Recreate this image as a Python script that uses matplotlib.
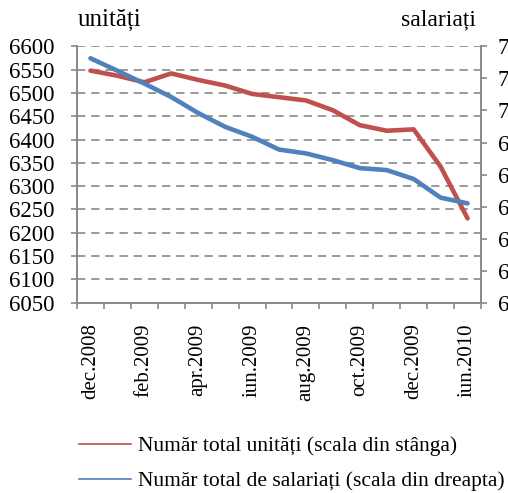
import matplotlib
matplotlib.use('Agg')
import numpy as np
import matplotlib.pyplot as plt
from matplotlib.lines import Line2D

plt.rcParams['font.family'] = ['Liberation Serif', 'DejaVu Serif']

luni = ['dec.2008', 'ian.2009', 'feb.2009', 'mar.2009', 'apr.2009', 'mai.2009',
        'iun.2009', 'iul.2009', 'aug.2009', 'sep.2009', 'oct.2009', 'nov.2009',
        'dec.2009', 'mar.2010', 'iun.2010']
unitati = [6548, 6537, 6523, 6542, 6528, 6516, 6498, 6491, 6484, 6463,
           6431, 6419, 6422, 6342, 6231]
salariati = [716.3, 712.4, 708.4, 704.2, 699.2, 694.9, 691.8, 687.8, 686.6,
             684.5, 682.0, 681.4, 678.6, 672.8, 671.0]
ticks_stanga = list(range(6050, 6601, 50))
ticks_dreapta = list(range(640, 721, 10))
nume_unitati = 'Număr total unități (scala din stânga)'
nume_salariati = 'Număr total de salariați (scala din dreapta)'

rosu = '#C0504D'
albastru = '#4F81BD'
gri = '#898989'

fig = plt.figure(figsize=(5.08, 4.93), dpi=100)
ax = fig.add_axes([77 / 508, 1 - 302.7 / 493, (481 - 77) / 508, (302.7 - 46.4) / 493])
ax2 = ax.twinx()

x = np.arange(len(luni))
ax.plot(x, unitati, color=rosu, lw=3.3, solid_capstyle='round', solid_joinstyle='round')
ax2.plot(x, salariati, color=albastru, lw=3.3, solid_capstyle='round', solid_joinstyle='round')

ax.set_xlim(-0.5, len(luni) - 0.5)
ax.set_ylim(ticks_stanga[0], ticks_stanga[-1])
ax2.set_ylim(ticks_dreapta[0], ticks_dreapta[-1])
ax.set_yticks(ticks_stanga)
ax2.set_yticks(ticks_dreapta)

ax.set_xticks(x[::2])
ax.set_xticklabels(luni[::2], rotation=90, fontsize=15)
ax.set_xticks(np.arange(-0.5, len(luni)), minor=True)
ax.tick_params(axis='x', which='major', length=0, pad=15)
ax.tick_params(axis='x', which='minor', length=4.5, color=gri, width=1.2)
ax.tick_params(axis='y', labelsize=16.5, length=4, color=gri, width=1.2, pad=12)
ax2.tick_params(axis='y', labelsize=16.5, length=4, color=gri, width=1.2, pad=8)

ax.yaxis.grid(True, color=gri, lw=1.2, linestyle=(0, (5, 3.5)))
ax.set_axisbelow(True)

for a in (ax, ax2):
    a.spines['top'].set_visible(False)
    for s in ('left', 'right', 'bottom'):
        a.spines[s].set_color(gri)
        a.spines[s].set_linewidth(1.2)

fig.text(78 / 508, 1 - 20 / 493, 'unități', fontsize=18, va='center', ha='left')
fig.text(476 / 508, 1 - 20 / 493, 'salariați', fontsize=17, va='center', ha='right')

handles = [Line2D([], [], color=rosu, lw=1.2), Line2D([], [], color=albastru, lw=1.2)]
fig.legend(handles, [nume_unitati, nume_salariati], loc='upper left',
           bbox_to_anchor=(60 / 508, 1 - 417 / 493), frameon=False, fontsize=15.5,
           handlelength=2.4, handletextpad=0.3, labelspacing=0.68)

fig.savefig('out.png', dpi=100)
